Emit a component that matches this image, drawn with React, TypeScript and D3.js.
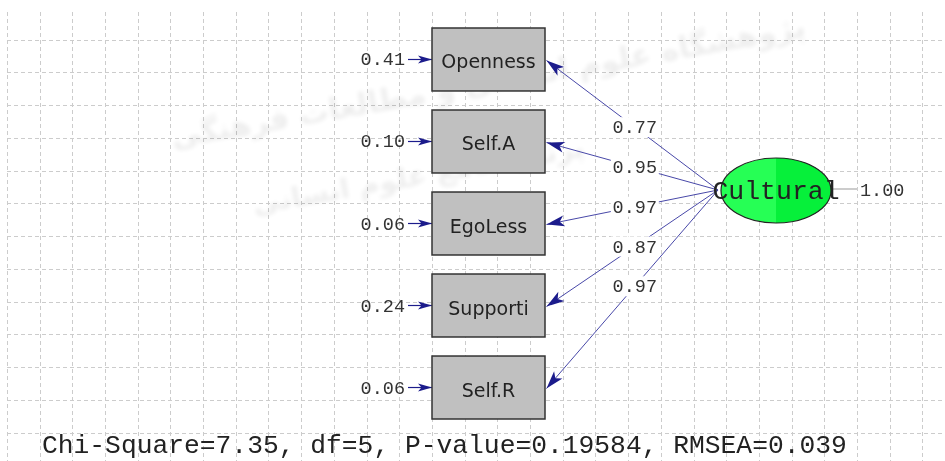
import * as d3 from 'd3'

const indicators = ['Openness', 'Self.A', 'EgoLess', 'Supporti', 'Self.R']
const loadings = [0.77, 0.95, 0.97, 0.87, 0.97]
const errorVars = [0.41, 0.1, 0.06, 0.24, 0.06]
const latentName = 'Cultural'
const latentVar = 1.0
const fitNames = ['Chi-Square', 'df', 'P-value', 'RMSEA']
const fitValues = ['7.35', '5', '0.19584', '0.039']
const watermark = ['پژوهشگاه علوم انسانی و مطالعات فرهنگی', 'پرتال جامع علوم انسانی']

const W = 945
const H = 461
const mono = '"Liberation Mono", "DejaVu Sans Mono", monospace'
const sans = '"DejaVu Sans", Tahoma, sans-serif'

const arrowHead = (x1: number, y1: number, x2: number, y2: number, len: number, half: number) => {
  const a = Math.atan2(y2 - y1, x2 - x1)
  const bx = x2 - len * Math.cos(a)
  const by = y2 - len * Math.sin(a)
  const nx = -Math.sin(a) * half
  const ny = Math.cos(a) * half
  return `M${x2},${y2}L${bx + nx},${by + ny}L${bx + len * 0.25 * Math.cos(a)},${by + len * 0.25 * Math.sin(a)}L${bx - nx},${by - ny}Z`
}

export default function App() {
  const y = d3.scaleBand<string>().domain(indicators).range([28, 419]).paddingInner(0.232)
  const boxX = 432
  const boxW = 113
  const ell = { cx: 776, cy: 190.5, rx: 55, ry: 32.5 }
  const src = { x: 718, y: 190 }

  const gx = d3.range(0, 29).map((i) => 7.3 + i * 32.7)
  const gy = d3.range(0, 13).map((i) => 40 + i * 32.75)

  const fit = fitNames.map((n, i) => `${n}=${fitValues[i]}`).join(', ')

  return (
    <svg
      width={W}
      height={H}
      style={{ position: 'absolute', left: 0, top: 0, background: '#fff' }}
    >
      <g stroke="#cccccc" strokeWidth={1} strokeDasharray="4,3" shapeRendering="crispEdges">
        {gx.map((x) => (
          <line key={'v' + x} x1={x} x2={x} y1={12} y2={H} />
        ))}
        {gy.map((v) => (
          <line key={'h' + v} x1={7} x2={W} y1={v} y2={v} />
        ))}
      </g>

      <g fill="#000" opacity={0.07} fontFamily={sans} fontWeight="bold" style={{ filter: 'blur(2px)' }}>
        <text x={490} y={92} fontSize={30} textAnchor="middle" transform="rotate(-10 490 92)">
          {watermark[0]}
        </text>
        <text x={420} y={185} fontSize={28} textAnchor="middle" transform="rotate(-10 420 185)">
          {watermark[1]}
        </text>
      </g>

      {indicators.map((name, i) => {
        const top = y(name) as number
        const cy = top + y.bandwidth() / 2
        const tip = { x: boxX + boxW + 1.5, y: cy + 1 }
        const lp = d3.interpolateObject(src, tip)(0.485)
        return (
          <g key={name}>
            <line x1={src.x} y1={src.y} x2={tip.x} y2={tip.y} stroke="#4848a8" strokeWidth={1} />
            <path d={arrowHead(src.x, src.y, tip.x, tip.y, 18, 5.5)} fill="#1c1c8c" />
            <rect x={lp.x - 24} y={lp.y - 10} width={48} height={20} fill="#fff" />
            <text
              x={lp.x}
              y={lp.y + 6}
              textAnchor="middle"
              fontFamily={mono}
              fontSize={18.5}
              fill="#333"
            >
              {loadings[i].toFixed(2)}
            </text>

            <line x1={408} y1={cy} x2={boxX} y2={cy} stroke="#1c1c8c" strokeWidth={1.2} />
            <path d={arrowHead(408, cy, boxX, cy, 14, 4)} fill="#1c1c8c" />
            <text x={405} y={cy + 6} textAnchor="end" fontFamily={mono} fontSize={18.5} fill="#333">
              {errorVars[i].toFixed(2)}
            </text>

            <rect
              x={boxX}
              y={top}
              width={boxW}
              height={y.bandwidth()}
              fill="#c0c0c0"
              stroke="#333"
              strokeWidth={1.5}
            />
            <text
              x={boxX + boxW / 2}
              y={cy + 9}
              textAnchor="middle"
              fontFamily={sans}
              fontSize={19}
              fill="#222"
            >
              {name}
            </text>
          </g>
        )
      })}

      <line x1={ell.cx + ell.rx} x2={857} y1={189} y2={189} stroke="#999" strokeWidth={1} />
      <ellipse cx={ell.cx} cy={ell.cy} rx={ell.rx} ry={ell.ry} fill="#26ff55" />
      <path
        d={`M${ell.cx},${ell.cy - ell.ry}A${ell.rx},${ell.ry} 0 0 1 ${ell.cx},${ell.cy + ell.ry}Z`}
        fill="#06f03a"
      />
      <ellipse cx={ell.cx} cy={ell.cy} rx={ell.rx} ry={ell.ry} fill="none" stroke="#222" strokeWidth={1.2} />
      <text x={ell.cx} y={ell.cy + 8} textAnchor="middle" fontFamily={mono} fontSize={26.5} fill="#222">
        {latentName}
      </text>
      <text x={860} y={196} fontFamily={mono} fontSize={18.5} fill="#333">
        {latentVar.toFixed(2)}
      </text>

      <text x={42} y={453} fontFamily={mono} fontSize={26.3} fill="#222">
        {fit}
      </text>
    </svg>
  )
}
